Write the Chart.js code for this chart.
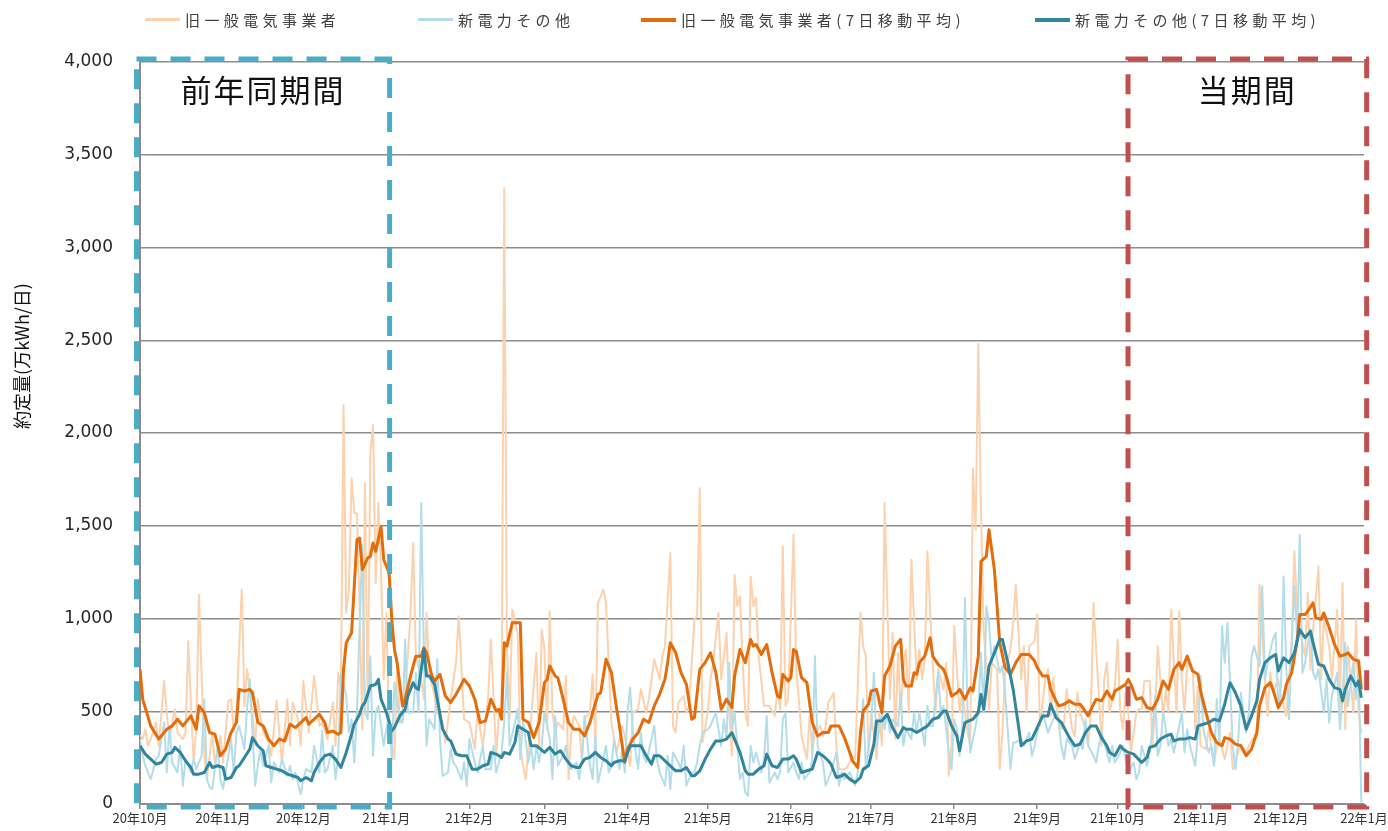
<!DOCTYPE html>
<html lang="ja">
<head>
<meta charset="utf-8">
<title>約定量</title>
<script src="https://cdn.jsdelivr.net/npm/chart.js@4.4.1/dist/chart.umd.min.js"></script>
<style>
  html, body { margin: 0; padding: 0; background: #fff; }
  #wrap { position: relative; width: 1388px; height: 831px; }
  #grafico { position: absolute; left: 0; top: 0; }
  #legenda { position: absolute; left: 0; top: 0; width: 1388px; height: 40px;
    font-family: "Noto Sans CJK JP", sans-serif; font-size: 15px; color: #404040; letter-spacing: 4.4px; }
  .item { position: absolute; top: 9px; display: flex; align-items: center; white-space: nowrap; }
  .item .linha { display: inline-block; width: 35px; margin-right: 5px; }
</style>
</head>
<body>
<div id="wrap">
  <canvas id="grafico" width="1388" height="831"></canvas>
  <div id="legenda"></div>
</div>
<script>
// Eixo X: dias desde 2020-10-01, rótulos no início de cada mês
const monthDays = [0, 31, 61, 92, 123, 151, 182, 212, 243, 273, 304, 335, 365, 396, 426, 457];
const monthLabels = ["20年10月", "20年11月", "20年12月", "21年1月", "21年2月", "21年3月", "21年4月", "21年5月",
  "21年6月", "21年7月", "21年8月", "21年9月", "21年10月", "21年11月", "21年12月", "22年1月"];

const seriesNames = ["旧一般電気事業者", "新電力その他", "旧一般電気事業者(7日移動平均)", "新電力その他(7日移動平均)"];

// [dia, 万kWh]
const oldDaily = [[0,372],[1,350],[2,403],[3,314],[4,350],[6,439],[7,314],[9,663],[10,493],[11,350],[13,511],[14,385],[16,350],[17,385],[18,878],[20,224],[21,403],[22,1129],[24,260],[25,134],[27,385],[28,206],[30,367],[31,224],[33,556],[34,565],[35,385],[36,511],[38,1156],[39,529],[40,726],[42,493],[43,314],[44,565],[46,385],[48,332],[49,260],[51,556],[53,224],[55,565],[56,314],[57,547],[59,457],[60,314],[61,663],[63,385],[65,690],[67,421],[68,439],[70,350],[72,547],[73,314],[74,708],[75,636],[76,2150],[77,1030],[78,1156],[79,1756],[80,1568],[81,1568],[82,1048],[83,403],[84,1729],[85,493],[86,1891],[87,2043],[88,1192],[89,1622],[90,1245],[91,672],[92,1030],[93,385],[95,242],[96,762],[97,439],[98,448],[100,797],[101,1030],[102,1407],[103,797],[105,672],[106,565],[107,1030],[108,708],[110,582],[111,493],[113,439],[114,332],[116,565],[118,762],[119,1012],[121,457],[123,439],[125,296],[126,493],[128,314],[130,582],[131,887],[133,260],[134,493],[135,511],[136,3320],[137,851],[138,457],[139,1048],[141,923],[142,314],[143,206],[144,134],[146,457],[148,815],[149,314],[150,941],[151,833],[152,403],[153,1039],[154,493],[155,385],[156,439],[158,403],[159,690],[160,134],[161,385],[162,475],[164,421],[165,224],[166,457],[168,493],[169,699],[170,332],[171,1084],[173,1156],[174,1084],[176,439],[177,350],[178,278],[180,421],[181,367],[183,206],[184,493],[186,511],[187,618],[189,493],[190,565],[192,780],[194,672],[195,797],[196,851],[198,1353],[199,421],[200,385],[201,547],[203,582],[204,493],[205,529],[207,995],[208,1012],[209,1702],[210,332],[212,493],[213,672],[214,762],[216,1030],[217,672],[219,923],[220,493],[221,260],[222,1236],[223,1066],[224,1120],[225,762],[226,493],[227,421],[228,1227],[229,1066],[230,1111],[231,797],[233,529],[234,529],[235,529],[237,475],[238,618],[239,511],[240,1389],[241,529],[242,565],[244,1451],[245,726],[246,565],[247,367],[249,242],[250,475],[251,278],[252,385],[254,421],[255,367],[256,421],[257,547],[259,600],[260,314],[261,188],[263,188],[264,197],[266,260],[267,242],[269,1030],[270,851],[271,797],[272,260],[273,493],[275,242],[276,493],[277,314],[278,1622],[280,565],[281,923],[282,350],[283,815],[284,493],[285,726],[286,833],[287,493],[288,1317],[290,672],[291,833],[292,672],[293,780],[294,1362],[296,744],[297,493],[298,726],[300,618],[301,762],[302,152],[303,314],[304,959],[306,493],[307,618],[308,493],[309,385],[310,314],[311,1810],[312,1478],[313,2480],[314,1568],[315,941],[316,744],[317,511],[318,762],[320,726],[321,188],[322,385],[323,708],[325,833],[326,977],[327,1183],[329,672],[330,851],[331,493],[332,851],[334,878],[335,1021],[336,421],[338,672],[339,726],[340,475],[341,681],[342,529],[344,403],[345,439],[346,618],[348,403],[349,367],[350,600],[351,493],[353,403],[354,314],[355,493],[356,1084],[358,582],[359,314],[360,672],[361,762],[362,493],[364,636],[365,887],[366,493],[367,403],[368,600],[369,493],[370,278],[372,493],[373,511],[374,511],[375,663],[377,663],[378,314],[379,493],[380,851],[382,475],[383,618],[384,493],[385,1048],[387,493],[388,1039],[389,672],[390,493],[391,762],[393,726],[394,403],[395,636],[396,314],[398,296],[399,403],[401,206],[402,314],[403,350],[405,242],[407,385],[408,188],[410,278],[411,323],[413,278],[414,314],[415,340],[417,385],[418,1183],[420,672],[421,475],[422,708],[423,600],[425,672],[426,582],[428,475],[429,672],[430,887],[431,1362],[432,1048],[433,941],[435,797],[436,1138],[437,726],[438,941],[440,1281],[441,672],[442,995],[444,851],[445,672],[447,1048],[448,511],[449,1192],[450,403],[451,851],[453,493],[454,995],[455,493],[456,385]];

const newDaily = [[0,350],[1,260],[2,206],[4,134],[5,188],[6,242],[7,260],[9,439],[10,170],[11,421],[12,224],[14,170],[15,314],[16,99],[17,242],[19,170],[20,242],[21,188],[23,260],[24,565],[25,134],[26,90],[27,81],[29,314],[30,134],[31,81],[32,170],[34,350],[35,170],[36,385],[37,421],[39,296],[40,520],[41,672],[43,99],[44,206],[45,296],[46,206],[48,314],[49,116],[50,224],[52,170],[53,242],[55,152],[56,206],[57,134],[58,170],[60,54],[61,134],[62,188],[64,170],[65,314],[67,170],[68,394],[69,170],[70,188],[72,314],[73,134],[74,260],[75,708],[77,582],[78,385],[79,457],[80,224],[81,493],[82,959],[83,1398],[84,493],[85,457],[86,797],[87,260],[88,493],[89,529],[91,314],[92,403],[93,493],[94,242],[95,654],[97,457],[98,439],[99,887],[100,493],[102,493],[103,708],[104,493],[105,1622],[106,797],[107,314],[108,457],[110,403],[111,780],[112,350],[113,152],[115,170],[116,296],[117,224],[118,206],[120,134],[121,224],[122,99],[123,350],[125,224],[126,170],[128,314],[129,188],[131,188],[132,314],[133,170],[135,278],[136,439],[137,708],[138,314],[140,439],[141,511],[142,242],[143,457],[145,224],[146,314],[147,188],[148,314],[149,224],[150,314],[151,493],[153,350],[154,134],[155,475],[156,206],[158,260],[159,314],[160,206],[161,188],[163,224],[164,134],[165,242],[166,475],[168,206],[169,134],[170,367],[171,116],[173,242],[174,314],[175,170],[176,206],[177,350],[179,188],[180,296],[181,170],[182,493],[183,627],[184,385],[186,188],[187,385],[188,260],[189,224],[191,350],[192,421],[193,242],[194,170],[196,99],[197,260],[198,81],[199,278],[201,224],[202,188],[203,314],[204,99],[206,170],[207,170],[208,224],[209,314],[210,385],[212,403],[213,421],[214,457],[215,493],[217,314],[218,457],[219,350],[220,762],[221,403],[222,493],[224,134],[225,170],[226,63],[227,45],[228,314],[229,224],[230,278],[232,170],[233,242],[234,475],[235,116],[237,170],[238,134],[239,170],[240,457],[241,493],[242,170],[244,224],[245,170],[246,134],[247,224],[248,134],[250,170],[251,242],[252,797],[253,314],[255,224],[256,99],[257,134],[258,170],[260,278],[261,99],[262,170],[263,134],[265,170],[266,134],[267,99],[268,170],[270,565],[271,188],[272,314],[273,421],[274,708],[275,314],[277,493],[278,403],[279,493],[280,385],[281,457],[283,421],[284,600],[285,314],[286,403],[288,350],[289,493],[290,385],[291,493],[293,314],[294,529],[295,421],[296,421],[298,708],[299,493],[300,529],[301,403],[302,278],[303,188],[304,457],[305,403],[306,260],[307,403],[308,1111],[309,493],[310,278],[311,350],[313,493],[314,815],[315,493],[316,1066],[317,977],[318,762],[319,851],[321,708],[322,744],[323,600],[325,188],[326,332],[327,332],[329,350],[330,314],[332,385],[333,260],[334,314],[335,385],[337,493],[338,439],[339,385],[340,421],[342,493],[343,439],[344,314],[345,242],[346,350],[348,314],[349,242],[351,332],[352,296],[353,457],[354,314],[356,260],[357,224],[358,314],[359,385],[361,278],[362,224],[363,314],[364,224],[366,278],[367,314],[368,242],[369,170],[371,224],[372,134],[373,170],[374,314],[376,206],[377,278],[378,403],[379,582],[380,260],[381,314],[382,493],[384,314],[385,350],[386,278],[387,350],[389,493],[390,278],[391,403],[392,314],[394,206],[395,385],[396,690],[397,403],[399,278],[400,314],[401,206],[402,565],[403,314],[404,959],[405,762],[406,977],[408,314],[409,188],[410,332],[411,600],[413,385],[414,493],[415,797],[416,851],[418,744],[419,1174],[420,672],[421,762],[423,887],[424,923],[425,511],[426,636],[427,1227],[428,726],[429,457],[430,851],[431,1174],[432,905],[433,1451],[434,708],[435,762],[437,941],[438,708],[439,672],[440,726],[442,493],[443,672],[444,439],[445,582],[447,708],[448,403],[449,582],[450,869],[451,529],[453,762],[454,565],[455,726],[456,9]];

const oldAvg = [[0,726],[1,565],[4,421],[7,350],[9,385],[10,403],[12,421],[14,457],[16,421],[19,475],[21,403],[22,529],[24,493],[26,385],[28,376],[30,260],[32,296],[34,385],[36,439],[37,618],[39,609],[41,618],[42,600],[44,439],[46,421],[48,350],[50,314],[52,350],[54,340],[56,430],[58,412],[60,439],[62,466],[63,430],[65,457],[67,484],[69,439],[70,385],[72,394],[74,376],[75,385],[76,726],[77,869],[79,923],[80,1174],[81,1425],[82,1434],[83,1263],[85,1326],[86,1335],[87,1407],[88,1362],[90,1496],[91,1317],[93,1245],[94,995],[95,833],[96,762],[98,529],[99,565],[101,690],[103,797],[105,797],[106,842],[107,815],[109,690],[110,663],[112,699],[114,582],[116,547],[118,591],[120,645],[121,672],[123,636],[125,565],[127,439],[129,448],[131,565],[133,502],[134,511],[135,457],[136,869],[137,851],[139,977],[142,977],[143,457],[145,439],[147,358],[149,439],[151,654],[152,672],[153,744],[155,690],[156,681],[158,565],[160,439],[162,403],[164,403],[166,367],[168,439],[169,493],[171,591],[172,600],[174,780],[176,708],[178,511],[179,421],[181,224],[182,296],[184,350],[186,385],[188,457],[190,439],[192,529],[194,591],[196,672],[197,762],[198,869],[200,815],[202,708],[204,645],[206,457],[207,466],[209,726],[211,762],[213,815],[215,708],[217,511],[219,565],[221,520],[222,690],[224,833],[226,762],[228,887],[229,851],[230,860],[232,806],[234,860],[236,708],[238,582],[239,573],[240,699],[242,663],[243,681],[244,833],[245,824],[247,681],[249,654],[251,439],[253,367],[255,385],[257,385],[258,421],[261,421],[263,358],[265,278],[266,233],[268,197],[269,385],[270,502],[272,538],[273,609],[275,618],[277,493],[278,690],[280,744],[282,851],[284,887],[285,672],[286,636],[288,636],[289,708],[290,699],[291,762],[293,797],[295,896],[296,797],[298,753],[300,726],[301,690],[303,582],[305,600],[306,618],[308,565],[310,627],[311,609],[313,797],[314,1308],[316,1335],[317,1478],[319,1263],[320,1066],[321,869],[323,735],[325,699],[327,762],[329,806],[332,806],[334,771],[335,735],[337,690],[339,690],[340,618],[342,556],[343,529],[345,538],[347,556],[349,538],[351,538],[352,520],[354,475],[356,538],[357,565],[359,556],[361,609],[363,565],[364,609],[366,627],[368,645],[369,672],[370,645],[372,565],[374,573],[376,520],[378,511],[380,565],[382,663],[384,618],[386,726],[388,762],[389,726],[391,797],[393,717],[395,699],[396,609],[398,493],[400,385],[402,332],[404,314],[405,358],[407,350],[409,323],[411,314],[413,260],[415,296],[417,385],[418,529],[420,627],[422,654],[423,618],[425,520],[427,573],[428,645],[430,708],[432,878],[433,1021],[435,1021],[436,1039],[438,1084],[439,1004],[441,995],[442,1030],[444,950],[446,860],[448,797],[450,806],[451,815],[453,780],[455,771],[456,618]];

const newAvg = [[0,314],[2,269],[4,242],[6,215],[8,224],[10,269],[12,278],[13,305],[15,278],[17,233],[19,197],[20,161],[22,161],[24,170],[26,224],[27,197],[29,206],[31,197],[32,134],[34,143],[36,197],[37,206],[39,251],[41,296],[42,358],[44,314],[46,287],[47,206],[49,197],[51,188],[53,179],[55,161],[57,152],[59,143],[60,125],[62,143],[64,125],[65,170],[67,224],[69,260],[71,269],[73,242],[75,197],[77,278],[79,376],[80,430],[82,484],[83,529],[84,547],[86,636],[88,645],[89,672],[90,565],[92,493],[94,394],[95,412],[97,475],[99,511],[100,582],[102,654],[103,627],[104,618],[106,833],[107,690],[108,690],[110,645],[113,403],[115,350],[116,340],[118,269],[120,260],[122,260],[124,188],[126,188],[128,206],[130,215],[131,278],[133,269],[135,251],[136,278],[138,269],[140,332],[141,421],[143,403],[145,385],[146,314],[148,314],[151,278],[153,305],[155,269],[157,287],[159,242],[161,206],[163,197],[164,197],[166,242],[168,251],[170,278],[172,251],[174,233],[176,206],[177,224],[179,233],[181,233],[183,314],[185,314],[187,314],[189,260],[191,215],[192,260],[194,260],[196,233],[198,206],[200,179],[202,179],[204,197],[206,152],[207,152],[209,179],[211,242],[213,296],[215,340],[217,340],[219,350],[221,385],[222,350],[224,278],[226,179],[227,161],[229,161],[231,188],[233,206],[234,269],[236,206],[238,197],[240,242],[242,242],[244,260],[245,242],[247,170],[249,179],[251,188],[253,278],[255,260],[257,233],[258,215],[260,143],[262,152],[263,161],[265,134],[267,116],[269,143],[270,188],[272,206],[274,323],[275,448],[277,448],[279,484],[281,412],[283,358],[285,412],[286,403],[288,403],[290,385],[292,403],[294,421],[296,457],[298,466],[300,502],[301,502],[303,421],[305,367],[306,287],[308,439],[311,457],[313,493],[314,591],[315,511],[317,744],[319,815],[321,887],[322,887],[324,762],[326,618],[328,421],[329,314],[331,340],[333,350],[335,412],[337,475],[339,475],[340,538],[342,466],[344,439],[346,385],[347,358],[349,314],[351,323],[353,385],[355,421],[357,421],[359,358],[361,314],[362,278],[364,260],[366,314],[367,296],[369,278],[371,269],[374,224],[376,251],[377,305],[379,314],[381,350],[383,367],[385,376],[386,340],[388,350],[390,350],[392,358],[394,350],[395,421],[397,430],[399,439],[401,457],[403,448],[405,538],[406,600],[407,654],[409,600],[411,529],[413,403],[415,475],[417,556],[418,672],[420,762],[422,788],[424,806],[425,717],[427,788],[429,762],[431,815],[433,941],[435,896],[437,932],[438,869],[440,753],[442,744],[444,672],[446,627],[448,618],[449,556],[450,618],[452,690],[454,636],[455,663],[456,573]];

// Períodos destacados (em dias)
const periodos = [
  { de: -1.3, ate: 93.2, cor: "#4BACC6", texto: "前年同期間" },
  { de: 368.9, ate: 458, cor: "#C0504D", texto: "当期間" }
];

const pontos = arr => arr.map(p => ({ x: p[0], y: p[1] }));

const caixasPlugin = {
  id: "caixas",
  afterDatasetsDraw(chart) {
    const { ctx, chartArea, scales } = chart;
    ctx.save();
    periodos.forEach(p => {
      const x1 = scales.x.getPixelForValue(p.de);
      const x2 = scales.x.getPixelForValue(p.ate);
      const y1 = chartArea.top - 3;
      const y2 = chartArea.bottom + 3;
      ctx.strokeStyle = p.cor;
      ctx.lineWidth = 5;
      ctx.setLineDash([20, 14]);
      ctx.strokeRect(x1, y1, x2 - x1, y2 - y1);
      ctx.setLineDash([]);
      ctx.fillStyle = "#111";
      ctx.font = "31px 'Noto Sans CJK JP'";
      ctx.letterSpacing = "2px";
      ctx.textAlign = "center";
      ctx.textBaseline = "middle";
      ctx.fillText(p.texto, (x1 + x2) / 2, chartArea.top + 28);
    });
    ctx.restore();
  }
};

const tituloYPlugin = {
  id: "tituloY",
  afterDraw(chart) {
    const { ctx } = chart;
    ctx.save();
    ctx.translate(22, 356);
    ctx.rotate(-Math.PI / 2);
    ctx.fillStyle = "#111";
    ctx.font = "18px 'Noto Sans CJK JP'";
    ctx.textAlign = "center";
    ctx.textBaseline = "middle";
    ctx.fillText("約定量(万kWh/日)", 0, 0);
    ctx.restore();
  }
};

const cinza = "#8c8c8c";

const chart = new Chart(document.getElementById("grafico"), {
  type: "line",
  data: {
    datasets: [
      { label: seriesNames[0], data: pontos(oldDaily), borderColor: "#FCD2AE", borderWidth: 2, order: 3 },
      { label: seriesNames[1], data: pontos(newDaily), borderColor: "#B3DDE8", borderWidth: 2, order: 2 },
      { label: seriesNames[2], data: pontos(oldAvg), borderColor: "#E46C0A", borderWidth: 3, order: 1 },
      { label: seriesNames[3], data: pontos(newAvg), borderColor: "#31859C", borderWidth: 3, order: 0 }
    ]
  },
  options: {
    responsive: false,
    animation: false,
    layout: { padding: { top: 62, right: 24, bottom: 0, left: 0 } },
    elements: { point: { radius: 0 }, line: { tension: 0, borderJoinStyle: "round" } },
    plugins: { legend: { display: false }, tooltip: { enabled: false } },
    scales: {
      x: {
        type: "linear",
        min: 0,
        max: 457,
        afterBuildTicks: s => { s.ticks = monthDays.map(v => ({ value: v })); },
        afterFit: s => { s.height = 27; s.paddingLeft = 0; s.paddingRight = 0; },
        ticks: {
          autoSkip: false, maxRotation: 0, padding: 1, color: "#333",
          font: { family: "Noto Sans CJK JP", size: 13 },
          callback: (v, i) => monthLabels[i]
        },
        grid: { drawOnChartArea: false, drawTicks: true, tickLength: 5, color: cinza, lineWidth: 1.5 },
        border: { color: cinza, width: 2 }
      },
      y: {
        min: 0,
        max: 4000,
        afterFit: s => { s.width = 140; s.paddingTop = 0; s.paddingBottom = 0; },
        ticks: {
          stepSize: 500, padding: 27, color: "#262626",
          font: { family: "DejaVu Sans", size: 17 },
          callback: v => v.toLocaleString("en-US")
        },
        grid: { color: cinza, lineWidth: 1.5, drawTicks: false },
        border: { color: cinza, width: 2 }
      }
    }
  },
  plugins: [caixasPlugin, tituloYPlugin]
});

// Legenda em HTML, gerada a partir dos datasets
const legendaX = [145, 418, 641, 1035];
const legenda = document.getElementById("legenda");
chart.data.datasets.forEach((ds, i) => {
  const item = document.createElement("div");
  item.className = "item";
  item.style.left = legendaX[i] + "px";
  const linha = document.createElement("span");
  linha.className = "linha";
  linha.style.height = (ds.borderWidth + 1) + "px";
  linha.style.background = ds.borderColor;
  const txt = document.createElement("span");
  txt.innerText = ds.label;
  item.appendChild(linha);
  item.appendChild(txt);
  legenda.appendChild(item);
});
</script>
</body>
</html>
